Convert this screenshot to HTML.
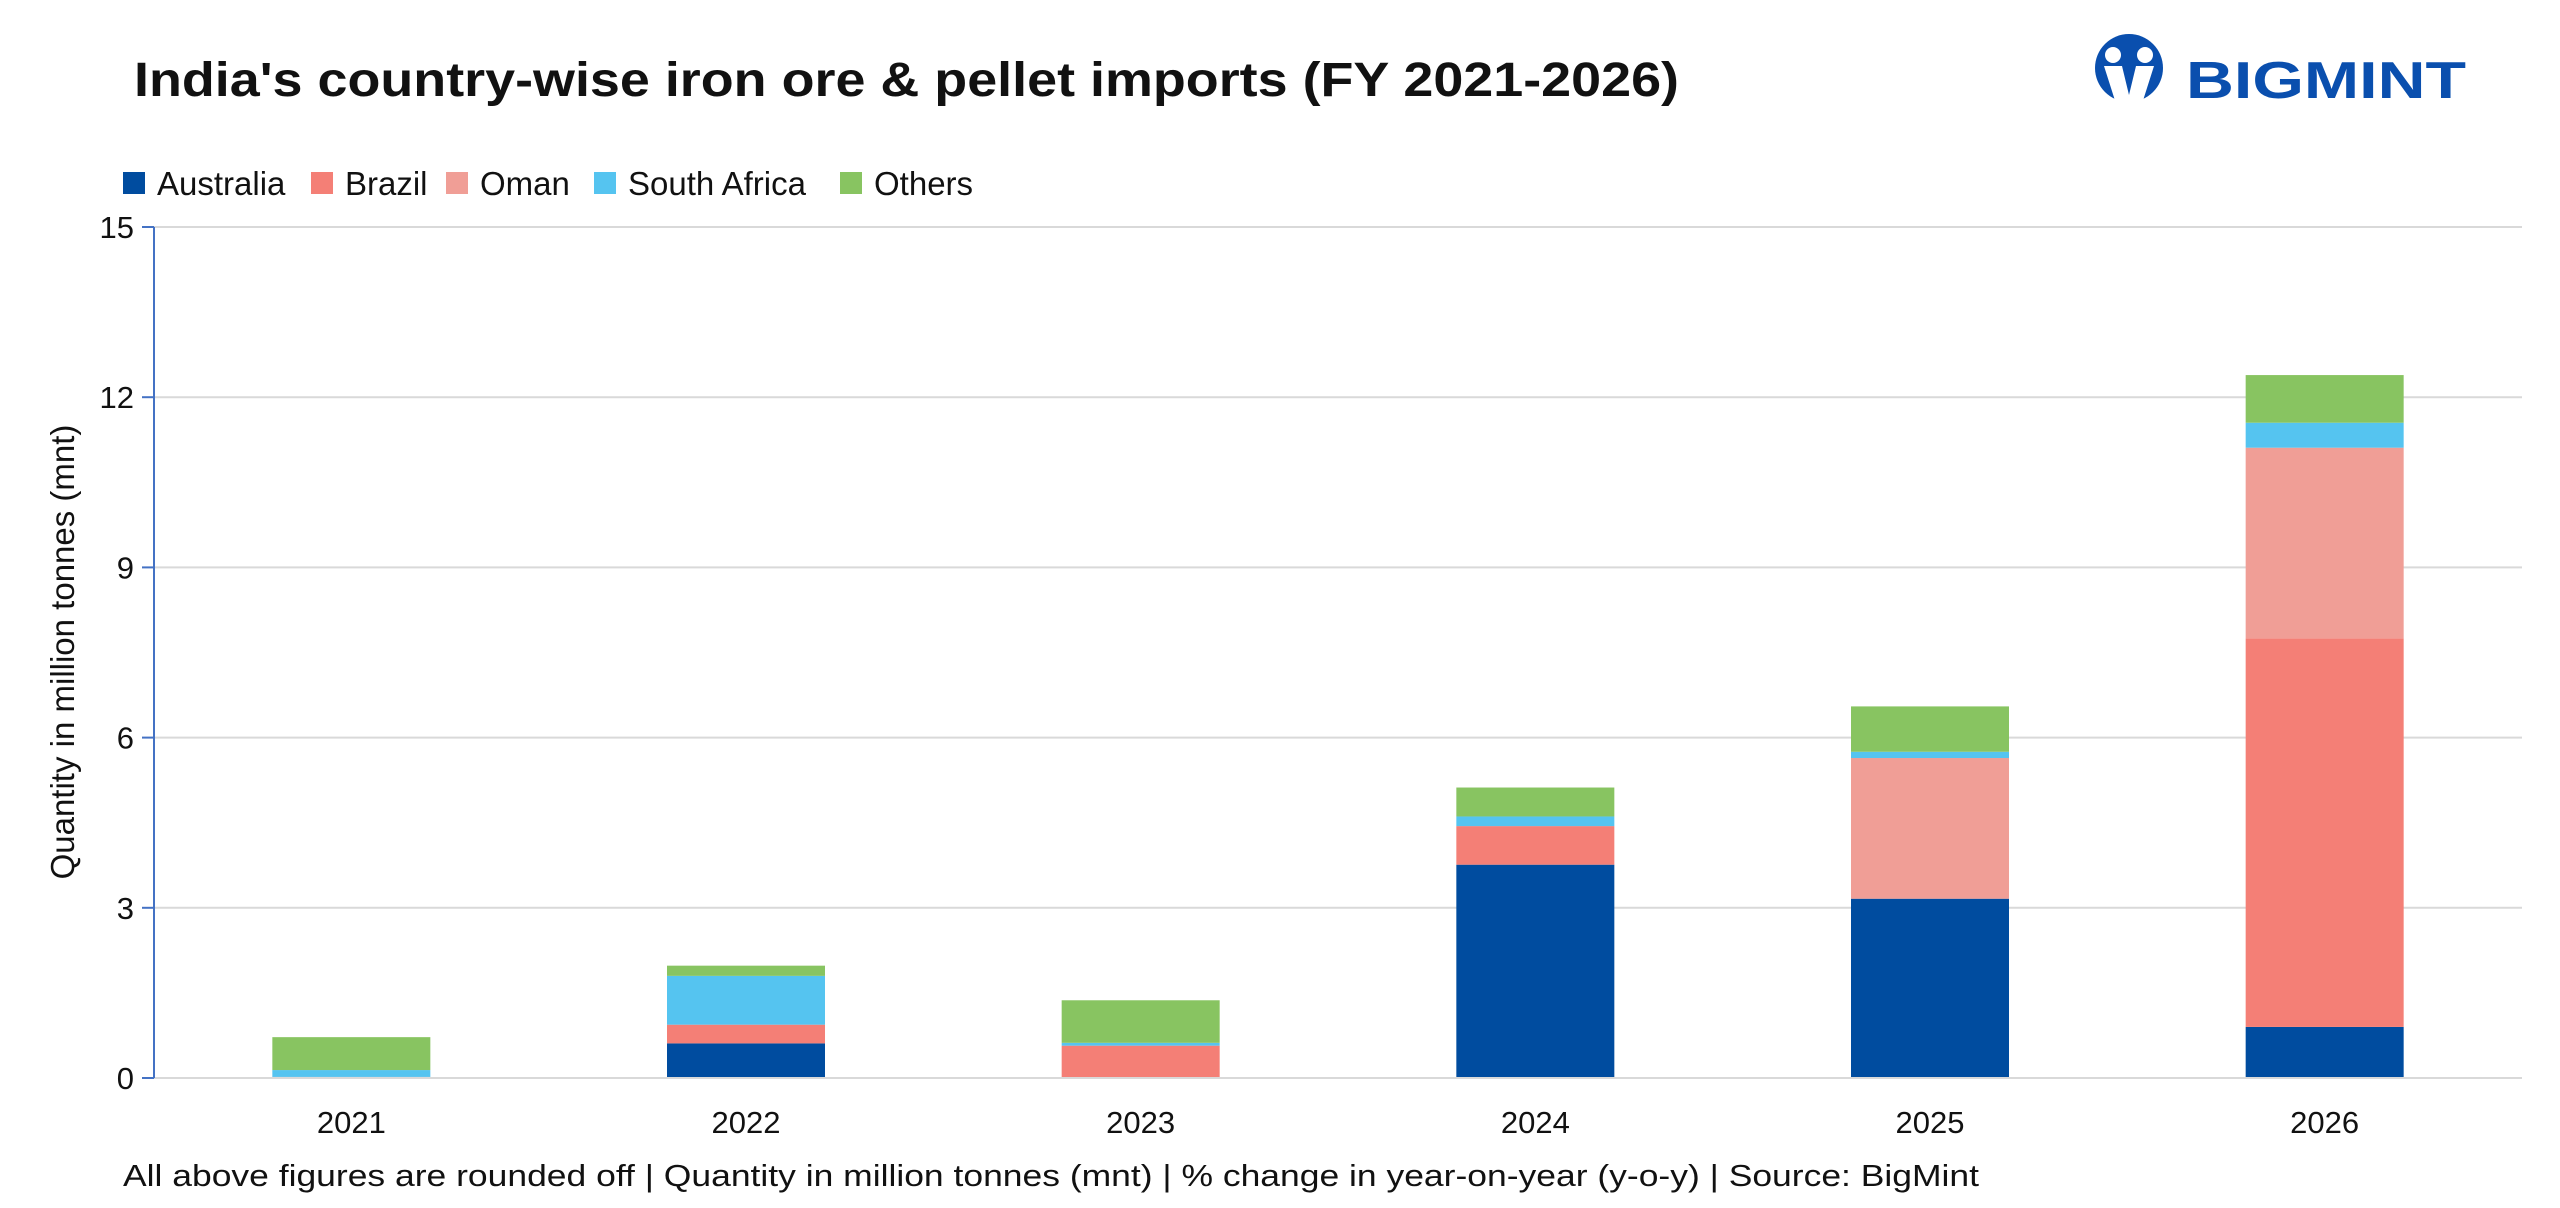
<!DOCTYPE html>
<html><head><meta charset="utf-8"><style>
html,body{margin:0;padding:0;background:#fff;}
svg{display:block;font-family:"Liberation Sans",sans-serif;}
</style></head><body>
<svg id="chart" width="2560" height="1208" viewBox="0 0 2560 1208" xmlns="http://www.w3.org/2000/svg">
<rect width="2560" height="1208" fill="#fff"/>
<text x="134" y="96" font-size="48" font-weight="bold" fill="#111" textLength="1545" lengthAdjust="spacingAndGlyphs">India's country-wise iron ore &amp; pellet imports (FY 2021-2026)</text>
<g>
<ellipse cx="2129" cy="68" rx="34" ry="34" fill="#0a4fae"/>
<circle cx="2113" cy="55" r="8" fill="#fff"/>
<circle cx="2145" cy="55" r="8" fill="#fff"/>
<path d="M2104 66 L2122 66 L2129 95 L2136 66 L2154 66 L2140 110 L2118 110 Z" fill="#fff"/>
<text x="2186" y="98" font-size="52" font-weight="bold" fill="#0a4fae" textLength="280" lengthAdjust="spacingAndGlyphs">BIGMINT</text>
</g>
<g id="legend"></g>
<g id="grid"></g>
<g id="bars"></g>
<g id="axes"></g>
<text transform="translate(74,652) rotate(-90)" text-anchor="middle" font-size="33" fill="#111">Quantity in million tonnes (mnt)</text>
<text x="123" y="1186" font-size="31" fill="#111" textLength="1856" lengthAdjust="spacingAndGlyphs">All above figures are rounded off | Quantity in million tonnes (mnt) | % change in year-on-year (y-o-y) |  Source: BigMint</text>
</svg>
<script>
const categories = ["2021","2022","2023","2024","2025","2026"];
const seriesNames = ["Australia","Brazil","Oman","South Africa","Others"];
const australia = [0.02, 0.61, 0, 3.76, 3.16, 0.90];
const brazil = [0, 0.33, 0.57, 0.68, 0, 6.85];
const oman = [0, 0, 0, 0, 2.48, 3.36];
const southAfrica = [0.12, 0.86, 0.05, 0.17, 0.11, 0.44];
const others = [0.58, 0.18, 0.75, 0.51, 0.80, 0.84];
const yTicks = [0, 3, 6, 9, 12, 15];
const colors = ["#004c9f","#f47f76","#f09e96","#55c4f0","#88c461"];
const series = [australia, brazil, oman, southAfrica, others];

const NS = "http://www.w3.org/2000/svg";
const X0 = 154, X1 = 2522, Y0 = 1078, Y1 = 227, YMAX = 15;
const band = (X1 - X0) / categories.length;
const barW = 158;
function yScale(v){ return Y0 - (v / YMAX) * (Y0 - Y1); }
function xCenter(i){ return X0 + band * (i + 0.5); }
function mk(tag, attrs, parent){ const e = document.createElementNS(NS, tag); for (const k in attrs) e.setAttribute(k, attrs[k]); parent.appendChild(e); return e; }

const grid = document.getElementById('grid');
const axes = document.getElementById('axes');
yTicks.forEach(t => {
  const y = yScale(t);
  if (t > 0) {
    const g = mk('line', {x1: X0, x2: X1, y1: y, y2: y, stroke: '#d9d9d9', 'stroke-width': 2}, grid);
    
    
  }
  const tk = mk('line', {x1: 142, x2: X0, y1: y, y2: y, stroke: '#4472c4', 'stroke-width': 2}, axes);
  
  
  const lb = mk('text', {x: 134, y: y + 11, 'text-anchor': 'end', 'font-size': 31, fill: '#111'}, axes);
  lb.textContent = t;
  
  
});
const xa = mk('line', {x1: X0, x2: X1, y1: Y0, y2: Y0, stroke: '#d9d9d9', 'stroke-width': 2}, axes);


const ya = mk('line', {x1: X0, x2: X0, y1: Y1, y2: Y0, stroke: '#4472c4', 'stroke-width': 2}, axes);



const bars = document.getElementById('bars');
categories.forEach((c, i) => {
  let cum = 0;
  series.forEach((s, k) => {
    const v = s[i];
    if (v > 0) {
      const yt = yScale(cum + v), yb = yScale(cum);
      const r = mk('rect', {x: xCenter(i) - barW / 2, y: yt, width: barW, height: yb - yt, fill: colors[k]}, bars);
      
      
    }
    cum += v;
  });
  const lb = mk('text', {x: xCenter(i), y: 1133, 'text-anchor': 'middle', 'font-size': 31, fill: '#111'}, axes);
  lb.textContent = c;
  
  
});

const legend = document.getElementById('legend');
const legX = [123, 311, 446, 594, 840];
seriesNames.forEach((n, k) => {
  const g = mk('g', {}, legend);
  
  
  mk('rect', {x: legX[k], y: 172, width: 22, height: 22, fill: colors[k]}, g);
  const t = mk('text', {x: legX[k] + 34, y: 195, 'font-size': 33, fill: '#111'}, g);
  t.textContent = n;
});
</script>
</body></html>
